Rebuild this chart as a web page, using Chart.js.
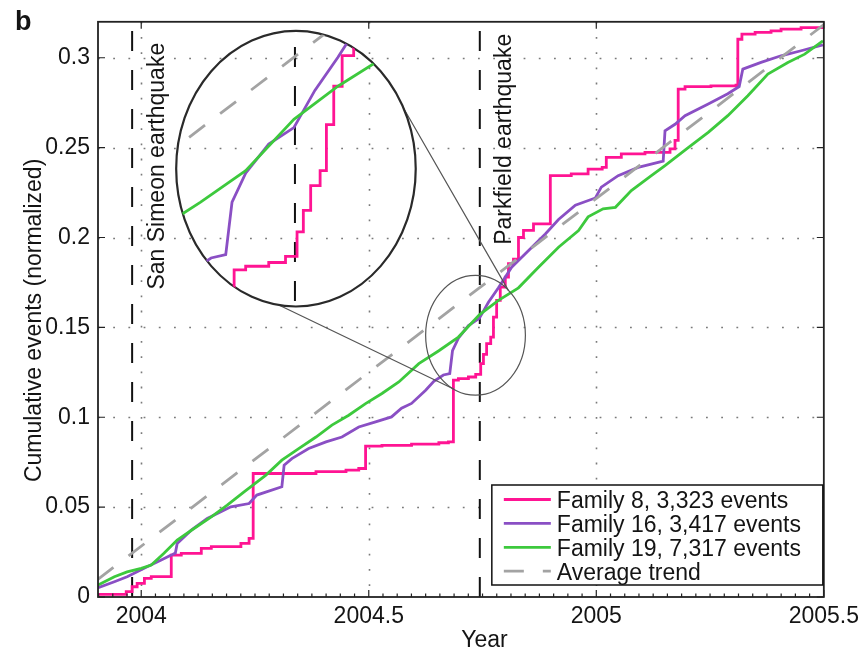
<!DOCTYPE html>
<html>
<head>
<meta charset="utf-8">
<title>Cumulative events (normalized)</title>
<script src="https://cdn.jsdelivr.net/npm/chart.js@4.4.1/dist/chart.umd.min.js"></script>
<style>
  html, body { margin: 0; padding: 0; background: #fff; }
  #wrap { position: relative; width: 865px; height: 650px; }
  #main { display: block; }
  #inset { position: absolute; clip-path: ellipse(50% 50% at 50% 50%); }
  #inset canvas { display: block; }
</style>
</head>
<body>
<div id="wrap">
  <canvas id="main" width="865" height="650"></canvas>
  <div id="inset"><canvas id="zoom"></canvas></div>
</div>
<script>
const FONT = '"Liberation Sans", Arial, Helvetica, sans-serif';

// axes
const xTicks = [2004, 2004.5, 2005, 2005.5];
const yTicks = [0, 0.05, 0.1, 0.15, 0.2, 0.25, 0.3];
const xMin = 2003.905, xMax = 2005.5;
const yMin = 0, yMax = 0.32;

// earthquakes (decimal year)
const sanSimeon = 2003.98;
const parkfield = 2004.744;

const seriesNames = ['Family 8, 3,323 events', 'Family 16, 3,417 events', 'Family 19, 7,317 events', 'Average trend'];
const seriesColors = ['#ff1493', '#8a4fc4', '#3dc93d', '#a3a3a3'];

// Family 8 (drawn as steps: each value starts at its year)
const fam8Years = [2003.904, 2003.967, 2003.980, 2003.991, 2004.007, 2004.022, 2004.066, 2004.088, 2004.132, 2004.154,
  2004.219, 2004.237, 2004.246, 2004.384, 2004.450, 2004.478, 2004.493, 2004.529, 2004.594, 2004.654,
  2004.675, 2004.686, 2004.697, 2004.719, 2004.735, 2004.746, 2004.752, 2004.759, 2004.768, 2004.774,
  2004.781, 2004.789, 2004.800, 2004.807, 2004.818, 2004.829, 2004.840, 2004.862, 2004.899, 2004.945,
  2004.982, 2005.013, 2005.022, 2005.055, 2005.107, 2005.162, 2005.173, 2005.180, 2005.195, 2005.252,
  2005.307, 2005.311, 2005.320, 2005.349, 2005.384, 2005.406, 2005.450, 2005.498];
const fam8Values = [0.0015, 0.0030, 0.0057, 0.0076, 0.0104, 0.0113, 0.0233, 0.0243, 0.0270, 0.0280,
  0.0298, 0.0326, 0.0687, 0.0697, 0.0706, 0.0715, 0.0839, 0.0844, 0.0850, 0.0858,
  0.0863, 0.1206, 0.1215, 0.1224, 0.1239, 0.1298, 0.1350, 0.1410, 0.1446, 0.1557,
  0.1650, 0.1724, 0.1780, 0.1854, 0.1880, 0.2000, 0.2040, 0.2076, 0.2344, 0.2354,
  0.2380, 0.2390, 0.2446, 0.2465, 0.2474, 0.2493, 0.2540, 0.2826, 0.2839, 0.2844,
  0.2848, 0.3103, 0.3131, 0.3141, 0.3150, 0.3159, 0.3168, 0.3178];

// Family 16
const fam16Years = [2003.904, 2003.941, 2003.969, 2003.991, 2004.013, 2004.044, 2004.066, 2004.075, 2004.079, 2004.110,
  2004.145, 2004.175, 2004.197, 2004.237, 2004.254, 2004.309, 2004.314, 2004.331, 2004.368, 2004.406,
  2004.441, 2004.478, 2004.515, 2004.550, 2004.572, 2004.594, 2004.625, 2004.643, 2004.664, 2004.678,
  2004.684, 2004.697, 2004.719, 2004.743, 2004.763, 2004.785, 2004.814, 2004.844, 2004.888, 2004.917,
  2004.954, 2004.998, 2005.011, 2005.048, 2005.092, 2005.147, 2005.151, 2005.173, 2005.195, 2005.246,
  2005.289, 2005.314, 2005.322, 2005.362, 2005.406, 2005.450, 2005.498];
const fam16Values = [0.0050, 0.0085, 0.0113, 0.0140, 0.0168, 0.0206, 0.0233, 0.0245, 0.0298, 0.0372,
  0.0437, 0.0474, 0.0502, 0.0520, 0.0567, 0.0613, 0.0733, 0.0770, 0.0826, 0.0863,
  0.0890, 0.0946, 0.0974, 0.1002, 0.1050, 0.1077, 0.1150, 0.1200, 0.1235, 0.1243,
  0.1370, 0.1440, 0.1510, 0.1550, 0.1640, 0.1720, 0.1835, 0.1910, 0.2020, 0.2100,
  0.2180, 0.2220, 0.2280, 0.2344, 0.2390, 0.2425, 0.2594, 0.2630, 0.2678, 0.2743,
  0.2800, 0.2840, 0.2937, 0.2974, 0.3011, 0.3039, 0.3072];

// Family 19
const fam19Years = [2003.904, 2003.941, 2003.969, 2004.000, 2004.022, 2004.050, 2004.079, 2004.116, 2004.154, 2004.189,
  2004.226, 2004.274, 2004.309, 2004.346, 2004.384, 2004.419, 2004.456, 2004.493, 2004.529, 2004.566,
  2004.610, 2004.654, 2004.697, 2004.743, 2004.785, 2004.829, 2004.873, 2004.917, 2004.961, 2004.982,
  2005.015, 2005.042, 2005.077, 2005.121, 2005.151, 2005.202, 2005.246, 2005.289, 2005.333, 2005.377,
  2005.421, 2005.458, 2005.498];
const fam19Values = [0.0065, 0.0113, 0.0140, 0.0159, 0.0178, 0.0243, 0.0317, 0.0381, 0.0446, 0.0511,
  0.0585, 0.0678, 0.0761, 0.0826, 0.0890, 0.0956, 0.1011, 0.1076, 0.1132, 0.1196,
  0.1298, 0.1370, 0.1446, 0.1570, 0.1650, 0.1720, 0.1835, 0.1946, 0.2039, 0.2115,
  0.2160, 0.2168, 0.2261, 0.2344, 0.2400, 0.2500, 0.2585, 0.2678, 0.2789, 0.2909,
  0.2974, 0.3020, 0.3094];

// average trend
const trendYears = [2003.904, 2005.5];
const trendValues = [0.0097, 0.3184];

// magnifier lenses (data units) and zoom factor of the inset
const bigLens = { x: 2004.34, y: 0.2383, rx: 0.2632, ry: 0.0767 };
const smallLens = { x: 2004.7346, y: 0.1456, rx: 0.1096, ry: 0.0333 };
const zoomCenter = { x: 2004.745, y: 0.1450 };
const zoomFactor = 2.3;
// connector lines: [angle on big lens, angle on small lens], degrees
const lensLinks = [[-26, -49], [98, 116]];

const DASH = [20, 19];

const pts = (xs, ys) => xs.map((x, i) => ({ x, y: ys[i] }));

function makeDatasets() {
  const base = { pointRadius: 0, borderWidth: 2.8, fill: false, tension: 0 };
  return [
    Object.assign({}, base, { label: seriesNames[3], data: pts(trendYears, trendValues), borderColor: seriesColors[3], borderDash: DASH, order: 0 }),
    Object.assign({}, base, { label: seriesNames[2], data: pts(fam19Years, fam19Values), borderColor: seriesColors[2], order: 1 }),
    Object.assign({}, base, { label: seriesNames[1], data: pts(fam16Years, fam16Values), borderColor: seriesColors[1], order: 2 }),
    Object.assign({}, base, { label: seriesNames[0], data: pts(fam8Years, fam8Values), borderColor: seriesColors[0], stepped: true, order: 3 }),
    Object.assign({}, base, { label: 'San Simeon', data: [{ x: sanSimeon, y: yMin }, { x: sanSimeon, y: yMax }], borderColor: '#111', borderWidth: 2, borderDash: DASH, order: 4 }),
    Object.assign({}, base, { label: 'Parkfield', data: [{ x: parkfield, y: yMin }, { x: parkfield, y: yMax }], borderColor: '#111', borderWidth: 2, borderDash: DASH, order: 4 })
  ];
}

function lensPixels(chart, lens) {
  const { x, y } = chart.scales;
  const cx = x.getPixelForValue(lens.x), cy = y.getPixelForValue(lens.y);
  return { cx, cy, rx: x.getPixelForValue(lens.x + lens.rx) - cx, ry: cy - y.getPixelForValue(lens.y + lens.ry) };
}

// dotted grid at the major ticks
const dottedGrid = {
  id: 'dottedGrid',
  beforeDatasetsDraw(chart) {
    const { ctx, chartArea: a, scales: { x, y } } = chart;
    ctx.save();
    ctx.strokeStyle = '#7a7a7a';
    ctx.lineWidth = 1.6;
    ctx.setLineDash([1.8, 13.4]);
    ctx.beginPath();
    xTicks.filter(t => t > x.min && t < x.max).forEach(t => {
      const px = Math.round(x.getPixelForValue(t)) + 0.5;
      ctx.moveTo(px, a.top); ctx.lineTo(px, a.bottom);
    });
    yTicks.filter(t => t > y.min && t < y.max).forEach(t => {
      const py = Math.round(y.getPixelForValue(t)) + 0.5;
      ctx.moveTo(a.left, py); ctx.lineTo(a.right, py);
    });
    ctx.stroke();
    ctx.restore();
  }
};

// frame, inward ticks, lenses, labels and legend
const decorations = {
  id: 'decorations',
  afterDatasetsDraw(chart) {
    const { ctx, chartArea: a, scales: { x, y } } = chart;
    ctx.save();

    ctx.strokeStyle = '#222';
    ctx.lineWidth = 1.2;
    ctx.beginPath();
    for (let k = Math.ceil(x.min * 32); k <= Math.floor(x.max * 32); k++) {
      const px = x.getPixelForValue(k / 32);
      ctx.moveTo(px, a.bottom); ctx.lineTo(px, a.bottom - 3.5);
    }
    xTicks.forEach(t => {
      const px = x.getPixelForValue(t);
      ctx.moveTo(px, a.bottom); ctx.lineTo(px, a.bottom - 7);
      ctx.moveTo(px, a.top); ctx.lineTo(px, a.top + 7);
    });
    yTicks.forEach(t => {
      const py = y.getPixelForValue(t);
      ctx.moveTo(a.left, py); ctx.lineTo(a.left + 7, py);
      ctx.moveTo(a.right, py); ctx.lineTo(a.right - 7, py);
    });
    ctx.stroke();

    ctx.lineWidth = 1.8;
    ctx.strokeRect(a.left, a.top, a.right - a.left, a.bottom - a.top);

    // lenses
    const big = lensPixels(chart, bigLens), small = lensPixels(chart, smallLens);
    ctx.strokeStyle = '#555';
    ctx.lineWidth = 1.2;
    ctx.beginPath();
    lensLinks.forEach(([ab, as]) => {
      const tb = ab * Math.PI / 180, ts = as * Math.PI / 180;
      ctx.moveTo(big.cx + big.rx * Math.cos(tb), big.cy + big.ry * Math.sin(tb));
      ctx.lineTo(small.cx + small.rx * Math.cos(ts), small.cy + small.ry * Math.sin(ts));
    });
    ctx.stroke();
    ctx.beginPath();
    ctx.ellipse(small.cx, small.cy, small.rx, small.ry, 0, 0, Math.PI * 2);
    ctx.stroke();
    ctx.strokeStyle = '#2a2a2a';
    ctx.lineWidth = 2.2;
    ctx.beginPath();
    ctx.ellipse(big.cx, big.cy, big.rx, big.ry, 0, 0, Math.PI * 2);
    ctx.stroke();

    // earthquake labels
    ctx.fillStyle = '#141414';
    ctx.font = '23px ' + FONT;
    [[sanSimeon, 'San Simeon earthquake', 21], [parkfield, 'Parkfield earthquake', 12]].forEach(([t, txt, dy]) => {
      ctx.save();
      ctx.translate(x.getPixelForValue(t) + 31.5, a.top + dy);
      ctx.rotate(-Math.PI / 2);
      ctx.textAlign = 'right';
      ctx.textBaseline = 'alphabetic';
      ctx.fillText(txt, 0, 0);
      ctx.restore();
    });

    // legend
    const lw = 331, lh = 100;
    const lx = a.right - 1 - lw, ly = a.bottom - 12 - lh;
    ctx.fillStyle = '#fff';
    ctx.fillRect(lx, ly, lw, lh);
    ctx.strokeStyle = '#111';
    ctx.lineWidth = 1.5;
    ctx.strokeRect(lx, ly, lw, lh);
    ctx.textAlign = 'left';
    ctx.textBaseline = 'alphabetic';
    seriesNames.forEach((name, i) => {
      const cy = ly + 14.5 + i * 23.9;
      ctx.strokeStyle = seriesColors[i];
      ctx.lineWidth = 2.8;
      ctx.setLineDash(i === 3 ? DASH : []);
      ctx.beginPath();
      ctx.moveTo(lx + 12, cy); ctx.lineTo(lx + 59, cy);
      ctx.stroke();
      ctx.setLineDash([]);
      ctx.fillStyle = '#141414';
      ctx.fillText(name, lx + 65, cy + 8.3);
    });

    // axis titles and panel letter
    ctx.textAlign = 'center';
    ctx.fillText('Year', (a.left + a.right) / 2 + 23.5, 647);
    ctx.save();
    ctx.translate(41, (a.top + a.bottom) / 2 + 11);
    ctx.rotate(-Math.PI / 2);
    ctx.fillText('Cumulative events (normalized)', 0, 0);
    ctx.restore();
    ctx.textAlign = 'left';
    ctx.font = 'bold 27px ' + FONT;
    ctx.fillText('b', 15, 30);

    ctx.restore();
  }
};

const tickFont = { family: FONT, size: 23 };

const mainChart = new Chart(document.getElementById('main'), {
  type: 'line',
  data: { datasets: makeDatasets() },
  plugins: [dottedGrid, decorations],
  options: {
    responsive: false,
    animation: false,
    devicePixelRatio: 1,
    layout: { padding: { top: 21, right: 40, bottom: 0, left: 0 } },
    plugins: { legend: { display: false }, tooltip: { enabled: false } },
    scales: {
      x: {
        type: 'linear', min: xMin, max: xMax,
        afterBuildTicks: s => { s.ticks = xTicks.map(v => ({ value: v })); },
        afterFit: s => { s.height = 53; },
        grid: { display: false, drawTicks: false },
        border: { display: false },
        ticks: { padding: 6, font: tickFont, color: '#141414', autoSkip: false, maxRotation: 0, callback: v => String(v) }
      },
      y: {
        type: 'linear', min: yMin, max: yMax,
        afterBuildTicks: s => { s.ticks = yTicks.map(v => ({ value: v })); },
        afterFit: s => { s.width = 98; },
        grid: { display: false, drawTicks: false },
        border: { display: false },
        ticks: { padding: 8, font: tickFont, color: '#141414', callback: v => String(v) }
      }
    }
  }
});

// magnified view inside the big lens
const big = lensPixels(mainChart, bigLens);
const insetBox = document.getElementById('inset');
const zoomCanvas = document.getElementById('zoom');
const w = Math.round(2 * big.rx), h = Math.round(2 * big.ry);
insetBox.style.left = Math.round(big.cx - big.rx) + 'px';
insetBox.style.top = Math.round(big.cy - big.ry) + 'px';
insetBox.style.width = w + 'px';
insetBox.style.height = h + 'px';
zoomCanvas.width = w;
zoomCanvas.height = h;

new Chart(zoomCanvas, {
  type: 'line',
  data: { datasets: makeDatasets() },
  options: {
    responsive: false,
    animation: false,
    devicePixelRatio: 1,
    layout: { padding: 0 },
    plugins: { legend: { display: false }, tooltip: { enabled: false } },
    scales: {
      x: { type: 'linear', display: false, min: zoomCenter.x - bigLens.rx / zoomFactor, max: zoomCenter.x + bigLens.rx / zoomFactor },
      y: { type: 'linear', display: false, min: zoomCenter.y - bigLens.ry / zoomFactor, max: zoomCenter.y + bigLens.ry / zoomFactor }
    }
  }
});
</script>
</body>
</html>
